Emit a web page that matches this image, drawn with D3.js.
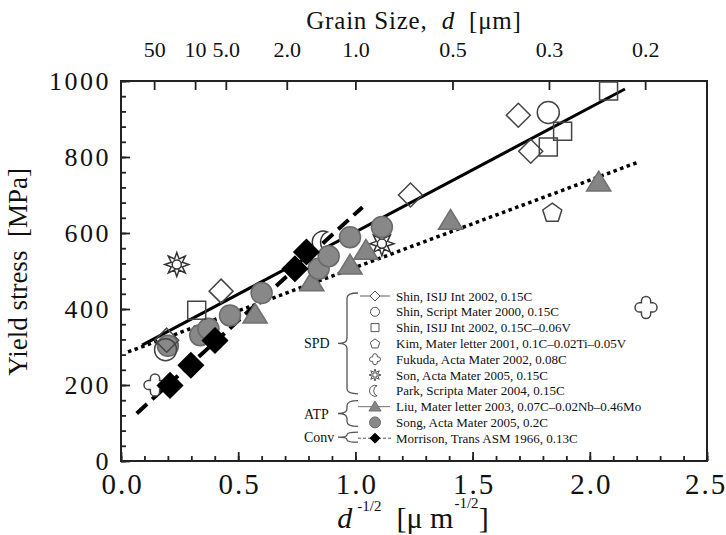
<!DOCTYPE html>
<html>
<head>
<meta charset="utf-8">
<script src="https://cdn.jsdelivr.net/npm/d3@7/dist/d3.min.js"></script>
<style>
  body { margin: 0; background: #fff; }
  text { font-family: "Liberation Serif", "Times New Roman", serif; fill: #111; white-space: pre; }
</style>
</head>
<body>
<svg id="chart" width="726" height="535"></svg>
<script>
// values: x = d^-1/2 [um^-1/2], y = yield stress [MPa]
let shinIsijX = [0.195, 0.427, 1.235, 1.695, 1.748];
let shinIsijY = [318, 447, 700, 910, 815];
let shinScriptX = [0.19, 1.823];
let shinScriptY = [293, 917];
let shinVX = [0.323, 1.823, 1.884, 2.08];
let shinVY = [397, 826, 868, 974];
let kimX = [1.84];
let kimY = [655];
let fukudaX = [0.145, 2.24];
let fukudaY = [200, 404];
let sonX = [0.238, 1.113];
let sonY = [517, 572];
let parkX = [0.863];
let parkY = [576];
let liuX = [0.572, 0.814, 0.977, 1.045, 1.406, 2.038];
let liuY = [386, 471, 515, 554, 633, 734];
let songX = [0.2, 0.338, 0.373, 0.465, 0.6, 0.843, 0.886, 0.977, 1.113];
let songY = [303, 331, 348, 383, 442, 506, 539, 589, 616];
let morrisonX = [0.209, 0.298, 0.401, 0.742, 0.791];
let morrisonY = [199, 252, 317, 506, 550];

// fitted lines (end points)
let solidFitX = [0.09, 2.15];
let solidFitY = [305, 979];
let dottedFitX = [0.03, 2.2];
let dottedFitY = [287, 785];
let dashedFitX = [0.067, 1.03];
let dashedFitY = [125, 668];

// axes
let yTicks = [0, 200, 400, 600, 800, 1000];
let xTicks = [0, 0.5, 1.0, 1.5, 2.0, 2.5];
let grainSizes = [50, 10, 5.0, 2.0, 1.0, 0.5, 0.3, 0.2];
let grainLabels = ["50", "10", "5.0", "2.0", "1.0", "0.5", "0.3", "0.2"];

let legendNames = [
  "Shin, ISIJ Int 2002, 0.15C",
  "Shin, Script Mater 2000, 0.15C",
  "Shin, ISIJ Int 2002, 0.15C\u20130.06V",
  "Kim, Mater letter 2001, 0.1C\u20130.02Ti\u20130.05V",
  "Fukuda, Acta Mater 2002, 0.08C",
  "Son, Acta Mater 2005, 0.15C",
  "Park, Scripta Mater 2004, 0.15C",
  "Liu, Mater letter 2003, 0.07C\u20130.02Nb\u20130.46Mo",
  "Song, Acta Mater 2005, 0.2C",
  "Morrison, Trans ASM 1966, 0.13C"
];
let groupNames = ["SPD", "ATP", "Conv"];

let svg = d3.select("#chart");

let x = d3.scaleLinear().domain([0, 2.5]).range([121, 707]);
let y = d3.scaleLinear().domain([0, 1000]).range([461, 81]);

// marker shapes
let markerPath = (type, r) => {
  if (type === "diamond") return `M0,${-r}L${r},0L0,${r}L${-r},0Z`;
  if (type === "square") return `M${-r},${-r}H${r}V${r}H${-r}Z`;
  if (type === "circle") return `M${r},0A${r},${r} 0 1,1 ${-r},0A${r},${r} 0 1,1 ${r},0Z`;
  if (type === "triangle") return `M0,${-r}L${r * 1.1},${r * 0.8}L${-r * 1.1},${r * 0.8}Z`;
  if (type === "pentagon") {
    let p = d3.range(5).map(k => {
      let a = -Math.PI / 2 + k * 2 * Math.PI / 5;
      return [r * Math.cos(a), r * Math.sin(a) + r * 0.1];
    });
    return "M" + p.join("L") + "Z";
  }
  if (type === "clover") {
    let w = r * 0.42, L = r;
    return `M${-w},${-w}L${-w},${-(L - w)}A${w},${w} 0 0 1 ${w},${-(L - w)}L${w},${-w}` +
      `L${L - w},${-w}A${w},${w} 0 0 1 ${L - w},${w}L${w},${w}` +
      `L${w},${L - w}A${w},${w} 0 0 1 ${-w},${L - w}L${-w},${w}` +
      `L${-(L - w)},${w}A${w},${w} 0 0 1 ${-(L - w)},${-w}Z`;
  }
  if (type === "sun") {
    let p = d3.range(16).map(k => {
      let a = -Math.PI / 2 + k * Math.PI / 8;
      let rr = k % 2 === 0 ? r : r * 0.5;
      return [rr * Math.cos(a), rr * Math.sin(a)];
    });
    let c = r * 0.38;
    return "M" + p.join("L") + "Z" + `M${c},0A${c},${c} 0 1,1 ${-c},0A${c},${c} 0 1,1 ${c},0Z`;
  }
  if (type === "crescent") {
    let a = r * 0.75, h = Math.sqrt(r * r - a * a / 4);
    return `M${a / 2},${-h}A${r},${r} 0 1 0 ${a / 2},${h}A${r},${r} 0 0 1 ${a / 2},${-h}Z`;
  }
};

let series = [
  { xs: shinIsijX, ys: shinIsijY, type: "diamond", r: 12, fill: "none", stroke: "#444", lr: 5 },
  { xs: shinScriptX, ys: shinScriptY, type: "circle", r: 11, fill: "none", stroke: "#444", lr: 4.5 },
  { xs: shinVX, ys: shinVY, type: "square", r: 9, fill: "none", stroke: "#444", lr: 4 },
  { xs: kimX, ys: kimY, type: "pentagon", r: 10, fill: "none", stroke: "#444", lr: 5 },
  { xs: fukudaX, ys: fukudaY, type: "clover", r: 11, fill: "#fff", stroke: "#444", lr: 5.5 },
  { xs: sonX, ys: sonY, type: "sun", r: 12, fill: "#fff", stroke: "#333", lr: 6 },
  { xs: parkX, ys: parkY, type: "crescent", r: 11, fill: "#fff", stroke: "#333", lr: 5.5 },
  { xs: liuX, ys: liuY, type: "triangle", r: 11, fill: "#858585", stroke: "#707070", lr: 5.5 },
  { xs: songX, ys: songY, type: "circle", r: 10.5, fill: "#888", stroke: "#6a6a6a", lr: 5.5 },
  { xs: morrisonX, ys: morrisonY, type: "diamond", r: 12.5, fill: "#000", stroke: "#000", lr: 5 }
];

// frame
svg.append("rect")
  .attr("x", x(0)).attr("y", y(1000))
  .attr("width", x(2.5) - x(0)).attr("height", y(0) - y(1000))
  .attr("fill", "none").attr("stroke", "#222").attr("stroke-width", 2);

// left axis
let styleAxis = (g) => {
  g.select(".domain").remove();
  g.selectAll(".tick line").attr("stroke", "#222").attr("stroke-width", 1.8);
};
svg.append("g").attr("transform", `translate(${x(0)},0)`)
  .call(d3.axisLeft(y).tickValues(d3.range(0, 1001, 40)).tickSize(-5).tickFormat(""))
  .call(styleAxis);
svg.append("g").attr("transform", `translate(${x(0)},0)`)
  .call(d3.axisLeft(y).tickValues(yTicks).tickSize(-9).tickPadding(10).tickFormat(d => d))
  .call(styleAxis)
  .selectAll("text").attr("font-size", 26).attr("letter-spacing", 2.5).attr("dy", "0.34em")
  .attr("fill", "#111");

// bottom axis
svg.append("g").attr("transform", `translate(0,${y(0)})`)
  .call(d3.axisBottom(x).tickValues(d3.range(0, 26).map(i => i / 10)).tickSize(-5).tickFormat(""))
  .call(styleAxis);
svg.append("g").attr("transform", `translate(0,${y(0)})`)
  .call(d3.axisBottom(x).tickValues(xTicks).tickSize(-9).tickPadding(12).tickFormat(d3.format(".1f")))
  .call(styleAxis)
  .selectAll("text").attr("font-size", 29).attr("letter-spacing", 2)
  .attr("dx", (d, i) => i === xTicks.length - 1 ? -1.5 : 1)
  .attr("fill", "#111");

// top axis: grain size d at position d^-1/2
svg.append("g").attr("transform", `translate(0,${y(1000)})`)
  .call(d3.axisTop(x).tickValues(grainSizes.map(d => 1 / Math.sqrt(d))).tickSize(-9).tickPadding(24)
    .tickFormat((d, i) => grainLabels[i]))
  .call(styleAxis)
  .selectAll("text").attr("font-size", 22).attr("fill", "#111");

// axis titles
let topTitle = svg.append("text").attr("x", 414).attr("y", 29).attr("text-anchor", "middle")
  .attr("font-size", 25).attr("letter-spacing", 0.8);
topTitle.append("tspan").text("Grain Size,  ");
topTitle.append("tspan").attr("font-style", "italic").text("d");
topTitle.append("tspan").text("  [\u03bcm]");

svg.append("text")
  .attr("transform", "translate(27,272) rotate(-90)")
  .attr("text-anchor", "middle").attr("font-size", 27)
  .text("Yield stress  [MPa]");

let xTitle = svg.append("text").attr("x", 413).attr("y", 528).attr("text-anchor", "middle").attr("font-size", 30);
xTitle.append("tspan").attr("font-style", "italic").text("d");
xTitle.append("tspan").attr("font-size", 15).attr("dy", -17).attr("dx", 5).text("-1/2");
xTitle.append("tspan").attr("dy", 17).text("  [\u03bc m");
xTitle.append("tspan").attr("font-size", 15).attr("dy", -20).attr("dx", 1).text("-1/2");
xTitle.append("tspan").attr("dy", 20).text("]");

// fit lines
let line = d3.line().x(d => x(d[0])).y(d => y(d[1]));
svg.append("path").datum(d3.zip(dottedFitX, dottedFitY)).attr("d", line)
  .attr("fill", "none").attr("stroke", "#000").attr("stroke-width", 3.5).attr("stroke-dasharray", "3.5 3.5");
svg.append("path").datum(d3.zip(dashedFitX, dashedFitY)).attr("d", line)
  .attr("fill", "none").attr("stroke", "#000").attr("stroke-width", 4).attr("stroke-dasharray", "14 7");
svg.append("path").datum(d3.zip(solidFitX, solidFitY)).attr("d", line)
  .attr("fill", "none").attr("stroke", "#000").attr("stroke-width", 3);

// markers, drawing order so that the open shapes stay visible on top
let drawOrder = [4, 5, 6, 7, 8, 9, 0, 1, 2, 3];
drawOrder.forEach(k => {
  let s = series[k];
  svg.append("g").selectAll("path")
    .data(d3.zip(s.xs, s.ys))
    .enter()
    .append("path")
    .attr("transform", d => `translate(${x(d[0])},${y(d[1])})`)
    .attr("d", markerPath(s.type, s.r))
    .attr("fill", s.fill)
    .attr("stroke", s.stroke)
    .attr("stroke-width", 1.5);
});

// legend
let rowY = i => 296 + i * 15.8;
let legend = svg.append("g");
// sample lines for rows with lines
legend.append("line").attr("x1", 360).attr("x2", 390).attr("y1", rowY(0)).attr("y2", rowY(0))
  .attr("stroke", "#777").attr("stroke-width", 1.2);
legend.append("line").attr("x1", 358).attr("x2", 390).attr("y1", rowY(7)).attr("y2", rowY(7))
  .attr("stroke", "#888").attr("stroke-width", 1.2);
legend.append("line").attr("x1", 358).attr("x2", 392).attr("y1", rowY(9)).attr("y2", rowY(9))
  .attr("stroke", "#555").attr("stroke-width", 1).attr("stroke-dasharray", "3 2");

series.forEach((s, i) => {
  legend.append("path")
    .attr("transform", `translate(375,${rowY(i)})`)
    .attr("d", markerPath(s.type, s.lr))
    .attr("fill", s.fill === "none" ? "#fff" : s.fill)
    .attr("stroke", i < 7 ? "#555" : s.stroke)
    .attr("stroke-width", 1);
  legend.append("text")
    .attr("x", 396).attr("y", rowY(i) + 4.5)
    .attr("font-size", 13)
    .text(legendNames[i]);
});

// group braces
let brace = (xt, xr, y0, y1) => {
  let xa = xt + (xr - xt) * 0.45, ym = (y0 + y1) / 2, c = Math.min(5, (y1 - y0) / 4);
  return `M${xr},${y0}Q${xa},${y0} ${xa},${y0 + c}L${xa},${ym - c}Q${xa},${ym} ${xt},${ym}` +
    `Q${xa},${ym} ${xa},${ym + c}L${xa},${y1 - c}Q${xa},${y1} ${xr},${y1}`;
};
let groups = [[0, 6], [7, 8], [9, 9]];
groups.forEach((g, i) => {
  let y0 = rowY(g[0]) - (i === 0 ? 3 : 6);
  let y1 = rowY(g[1]) + (i === 0 ? 3 : 4);
  legend.append("path").attr("d", brace(338, 358, y0, y1))
    .attr("fill", "none").attr("stroke", "#555").attr("stroke-width", 1.3);
  legend.append("text").attr("x", 304).attr("y", (y0 + y1) / 2 + 5)
    .attr("font-size", 14).text(groupNames[i]);
});
</script>
</body>
</html>
